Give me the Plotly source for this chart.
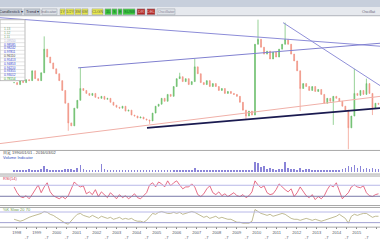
import plotly.graph_objects as go
import pandas as pd

# ---------------- data ----------------
close = [1.16,1.14,1.18,1.16,1.19,1.18,1.28,1.20,1.18,1.26,
         1.50,1.42,1.36,1.30,1.25,1.18,1.08,0.95,0.75,0.72,
         0.90,0.98,1.10,1.08,1.05,1.03,1.05,1.01,1.00,1.02,
         0.99,1.00,0.96,0.93,0.91,0.90,0.92,0.87,0.88,0.83,
         0.82,0.80,0.81,0.79,0.78,0.77,0.85,0.92,0.94,1.00,
         0.97,1.04,1.02,1.12,1.20,1.22,1.17,1.20,1.14,1.17,
         1.32,1.25,1.16,1.14,1.18,1.12,1.15,1.12,1.08,1.10,
         1.05,1.07,1.05,1.04,1.02,0.96,0.88,0.82,0.87,0.83,
         1.55,1.60,1.52,1.45,1.48,1.40,1.47,1.42,1.50,1.55,
         1.60,1.55,1.45,1.38,1.28,1.10,1.15,1.12,1.08,1.12,
         1.07,1.09,1.04,0.95,1.00,0.97,1.02,1.00,0.97,0.92,
         0.88,0.70,0.82,1.05,1.03,1.08,1.04,1.15,1.05,0.90,
         0.95,0.94]
spike_highs = {10: 1.63, 22: 1.31, 55: 1.26, 60: 1.40, 81: 1.80, 90: 1.77, 113: 1.30, 117: 1.20}
spike_lows = {18: 0.67, 45: 0.74, 77: 0.78, 95: 0.87, 106: 0.73, 111: 0.48, 119: 0.83}

volume = [1.5,1.2,1.8,1.0,1.4,2.2,1.3,1.1,1.6,1.9,
          4.5,2.0,1.4,1.2,1.0,1.5,1.3,2.0,2.6,2.2,
          1.8,3.0,5.5,2.1,1.5,1.3,1.2,1.6,1.1,6.5,
          2.0,1.3,1.1,1.5,1.2,1.0,1.4,1.1,1.3,1.0,
          1.2,1.0,1.5,1.1,1.3,1.6,1.4,1.8,1.2,1.0,
          1.3,1.1,1.5,1.2,1.4,1.7,1.2,1.3,1.0,1.5,
          3.0,1.5,1.2,1.3,1.1,1.0,1.4,1.2,1.1,1.3,
          1.0,1.2,1.1,1.4,1.0,1.3,1.5,1.8,1.4,1.6,
          8.5,7.0,4.0,5.0,2.5,3.0,2.0,1.8,2.2,2.5,
          8.0,3.5,2.5,2.0,1.8,2.8,1.6,2.0,2.2,1.5,
          1.8,1.4,1.6,1.3,1.5,1.2,1.7,1.4,1.6,2.0,
          3.5,5.0,4.0,5.5,3.0,4.5,2.5,3.5,2.0,3.0,
          2.2,2.6]

rsi = [64,43,29,25,32,21,36,54,71,43,
       64,79,46,32,25,21,29,21,32,57,
       82,71,64,68,39,46,36,54,29,46,
       36,25,43,32,21,36,25,32,21,29,
       39,25,21,32,43,71,79,64,82,75,
       64,86,68,79,86,71,57,64,64,75,
       64,36,29,39,57,68,43,36,46,32,
       39,29,36,43,32,29,36,25,32,46,
       86,71,61,68,43,36,39,54,75,64,
       54,46,57,29,43,64,50,32,25,36,
       18,29,21,32,54,71,64,79,50,21,
       32,43,64,71,64,61,68,43,32,29,
       36,39]

stoch = [39,33,28,33,44,50,56,61,67,72,
         83,78,67,61,50,39,28,17,11,33,
         50,67,72,61,56,50,61,50,44,56,
         50,44,50,39,44,50,39,44,39,44,
         33,28,28,22,33,56,72,67,78,83,
         78,72,72,78,72,78,67,72,78,83,
         78,67,56,50,56,44,50,56,44,50,
         44,39,39,28,22,22,17,17,17,28,
         94,83,72,67,61,67,56,61,67,72,
         67,56,44,39,39,33,39,44,39,33,
         39,33,28,33,39,44,50,56,67,56,
         44,17,56,67,61,67,72,72,61,50,
         56,56]

# trend lines: (start date, start price, end date, end price, colour, width)
trend_lines = [
    ("1997-03-02", 1.82, "2016-03-02", 1.53, "#8c8cd8", 1),
    ("2001-01-26", 1.31, "2016-03-02", 1.56, "#8080d0", 1),
    ("2011-04-27", 1.77, "2016-03-02", 1.13, "#9090d8", 1),
    ("2004-07-08", 0.70, "2016-03-02", 0.90, "#1a1a50", 1.6),
    ("1997-03-02", 0.54, "2016-03-02", 1.02, "#f0b0a8", 1),
]

table_rows = ["1.13", "1.12", "1.11", "1.09550", "0.98585", "0.98242", "0.97811",
              "0.96110", "0.95413", "0.94853", "0.94210", "0.93355", "0.93012",
              "0.78154"]
table_colors = ["#70a070", "#70a070", "#70a070", "#b0b0d0", "#3040d0", "#3040d0", "#3040d0",
                "#404040", "#3040d0", "#3040d0", "#3040d0", "#3040d0", "#3040d0",
                "#30a030"]

dates = pd.date_range("1997-11-14", periods=len(close), freq="55D")

# ---------------- derived OHLC ----------------
opens = [close[0]] + close[:-1]
highs = [max(o, c) for o, c in zip(opens, close)]
lows = [min(o, c) for o, c in zip(opens, close)]
for i, v in spike_highs.items():
    highs[i] = v
for i, v in spike_lows.items():
    lows[i] = v

W, H = 380, 240
def X(px): return px / W
def Y(py): return 1 - py / H

fig = go.Figure()
fig.add_trace(go.Candlestick(
    x=dates, open=opens, high=highs, low=lows, close=close,
    increasing=dict(line=dict(color="#6cbf6c", width=0.7), fillcolor="#6cbf6c"),
    decreasing=dict(line=dict(color="#f09484", width=0.7), fillcolor="#f09484"),
    whiskerwidth=0, xaxis="x", yaxis="y", showlegend=False, hoverinfo="skip"))
fig.add_trace(go.Bar(x=dates, y=volume, marker=dict(color="#8a84d8", line=dict(width=0)),
                     xaxis="x", yaxis="y2", showlegend=False, width=1000*3600*24*12))
fig.add_trace(go.Scatter(x=dates, y=rsi, mode="lines", line=dict(color="#e04a6a", width=0.8),
                         xaxis="x", yaxis="y3", showlegend=False))
fig.add_trace(go.Scatter(x=dates, y=stoch, mode="lines", line=dict(color="#b0aa78", width=0.8),
                         xaxis="x", yaxis="y4", showlegend=False))

shapes = []
for d0, p0, d1, p1, col, w in trend_lines:
    shapes.append(dict(type="line", xref="x", yref="y", x0=d0, y0=p0, x1=d1, y1=p1,
                       line=dict(color=col, width=w), layer="above"))
# reference levels
for yv, col, ax in [(70, "#b8b8e8", "y3"), (30, "#7878a8", "y3"), (80, "#b8b8e8", "y4"), (20, "#a0a0d0", "y4")]:
    shapes.append(dict(type="line", xref="paper", yref=ax, x0=0, x1=1, y0=yv, y1=yv,
                       line=dict(color=col, width=1)))
# panel separators
for py in [153, 177, 179, 209, 211, 231]:
    shapes.append(dict(type="line", xref="paper", yref="paper", x0=0, x1=1, y0=Y(py), y1=Y(py),
                       line=dict(color="#a8a8a8", width=1)))
# toolbar
shapes.append(dict(type="rect", xref="paper", yref="paper", x0=0, x1=1, y0=Y(7), y1=1,
                   fillcolor="#c7cfdc", line=dict(width=0)))
shapes.append(dict(type="rect", xref="paper", yref="paper", x0=0, x1=1, y0=Y(16), y1=Y(7),
                   fillcolor="#e6e9ee", line=dict(width=0)))
shapes.append(dict(type="line", xref="paper", yref="paper", x0=0, x1=1, y0=Y(16), y1=Y(16),
                   line=dict(color="#b0b4bc", width=1)))
buttons = [(0, 22, "#c3cad4", "Candlestick ▾", "#334"),
           (24, 40, "#c3cad4", "Trend ▾", "#334"),
           (42, 57, "#dfe3e8", "Indicator", "#778"),
           (60, 65, "#e8e84a", "1Y", "#665"),
           (66, 74, "#e8e84a", "1/2Y", "#665"),
           (75, 81, "#e8e84a", "3M", "#665"),
           (82, 88, "#e8e84a", "6M", "#665"),
           (92, 103, "#e8e84a", "CLGN", "#665"),
           (105, 111, "#3cc83c", "1L", "#163"),
           (112, 117, "#3cc83c", "S", "#163"),
           (118, 122, "#3cc83c", "E", "#163"),
           (123, 135, "#3cc83c", "SUSB", "#163"),
           (137, 145, "#b02828", "DR", "#f0c0c0"),
           (147, 155, "#b02828", "DEL", "#f0c0c0"),
           (157, 175, "#dfe3e8", "Oscillator", "#889")]
annotations = []
for x0, x1, col, txt, tc in buttons:
    shapes.append(dict(type="rect", xref="paper", yref="paper", x0=X(x0), x1=X(x1), y0=Y(15), y1=Y(9),
                       fillcolor=col, line=dict(color="#9aa0aa", width=0.5)))
    annotations.append(dict(xref="paper", yref="paper", x=X((x0 + x1) / 2), y=Y(12), text=txt,
                            showarrow=False, font=dict(size=4, color=tc, family="Liberation Sans"),
                            xanchor="center", yanchor="middle"))
annotations.append(dict(xref="paper", yref="paper", x=X(378), y=Y(12), text="Oscillat",
                        showarrow=False, font=dict(size=4, color="#667", family="Liberation Sans"),
                        xanchor="right", yanchor="middle"))
# left price table
shapes.append(dict(type="rect", xref="paper", yref="paper", x0=0, x1=X(25), y0=Y(82), y1=Y(20),
                   fillcolor="white", line=dict(color="#909090", width=0.6), layer="above"))
for k in range(16):
    py = 20 + k * 3.9
    shapes.append(dict(type="line", xref="paper", yref="paper", x0=0, x1=X(25), y0=Y(py), y1=Y(py),
                       line=dict(color="#c8c8c8", width=0.5), layer="above"))
for k, (t, c) in enumerate(zip(table_rows, table_colors)):
    annotations.append(dict(xref="paper", yref="paper", x=X(2), y=Y(29.8 + k * 3.9), text=t,
                            showarrow=False, font=dict(size=3.2, color=c, family="Liberation Sans"),
                            xanchor="left", yanchor="middle"))
annotations += [
    dict(xref="paper", yref="paper", x=X(1), y=Y(155.5), text="日足 1990/01/01 - 2016/03/02", showarrow=False,
         font=dict(size=4, color="#444", family="Liberation Sans"), xanchor="left", yanchor="middle"),
    dict(xref="paper", yref="paper", x=X(1), y=Y(160.5), text="Volume Indicator", showarrow=False,
         font=dict(size=4, color="#3050c0", family="Liberation Sans"), xanchor="left", yanchor="middle"),
    dict(xref="paper", yref="paper", x=X(1), y=Y(182), text="RSI(14)", showarrow=False,
         font=dict(size=4, color="#d03050", family="Liberation Sans"), xanchor="left", yanchor="middle"),
    dict(xref="paper", yref="paper", x=X(1), y=Y(213.5), text="%K Slow 20 70", showarrow=False,
         font=dict(size=4, color="#70a050", family="Liberation Sans"), xanchor="left", yanchor="middle"),
]

tickvals, ticktext = [], []
for yr in range(1998, 2017):
    tickvals.append(f"{yr}-01-01"); ticktext.append(str(yr))
    tickvals.append(f"{yr}-07-01"); ticktext.append("<br>-7")

fig.update_layout(
    width=W, height=H, margin=dict(l=0, r=0, t=0, b=0),
    paper_bgcolor="white", plot_bgcolor="white", showlegend=False,
    xaxis=dict(type="date", range=["1997-03-02", "2016-03-02"], domain=[0, 1], anchor="y4",
               showgrid=False, zeroline=False, showline=False, rangeslider=dict(visible=False),
               tickvals=tickvals, ticktext=ticktext, ticks="outside", ticklen=2, tickcolor="#888",
               tickfont=dict(size=4, color="#556", family="Liberation Sans")),
    yaxis=dict(domain=[Y(152), Y(16)], range=[0.48, 1.84], showgrid=False, zeroline=False,
               showticklabels=False, showline=False),
    yaxis2=dict(domain=[Y(175), Y(158)], range=[0, 14], showgrid=False, zeroline=False,
                showticklabels=False),
    yaxis3=dict(domain=[Y(208), Y(180)], range=[0, 100], showgrid=False, zeroline=False,
                showticklabels=False),
    yaxis4=dict(domain=[Y(230), Y(212)], range=[0, 100], showgrid=False, zeroline=False,
                showticklabels=False),
    shapes=shapes, annotations=annotations, bargap=0, boxgap=0.6,
)
fig.write_html("out.html")
